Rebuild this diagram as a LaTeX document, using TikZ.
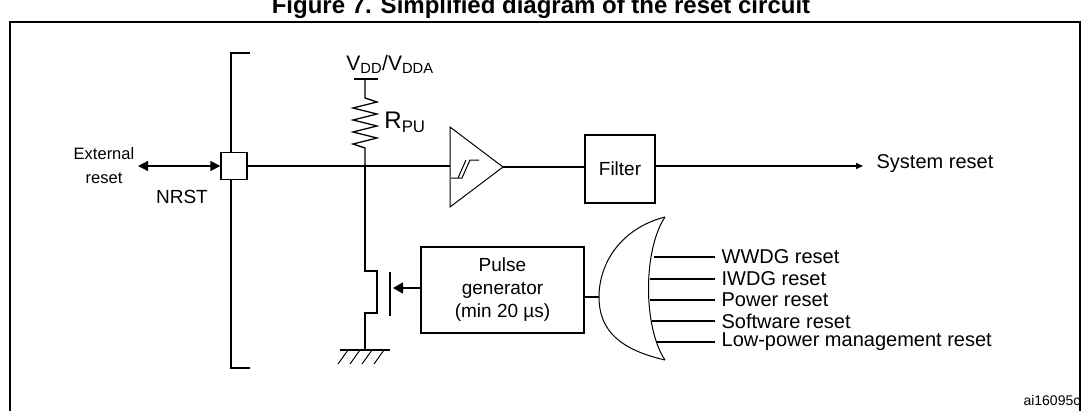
\documentclass[tikz,border=0pt]{standalone}
\usepackage{fontspec}
\setmainfont{Liberation Sans}
\usetikzlibrary{arrows.meta}
\begin{document}
\begin{tikzpicture}[x=1pt,y=-1pt,line width=1.3pt,
  lbl/.style={inner sep=0pt,font=\fontsize{20}{22}\selectfont},
  box/.style={draw,line width=1.3pt,inner sep=0pt,align=center,font=\fontsize{19}{23}\selectfont},
  tip/.style={-{Triangle[length=9pt,width=9pt]}}]
\useasboundingbox (0,0) rectangle (1082,410);
\draw[line width=1.6pt] (10,415) -- (10,22) -- (1080,22) -- (1080,415);
\node[font=\bfseries\fontsize{24}{26}\selectfont,anchor=center] (title) at (541,7) {Figure 7. Simplified diagram of the reset circuit};
% bracket
\draw (250,53) -- (231,53) -- (231,368) -- (250,368);
\node[draw,fill=white,minimum width=26pt,minimum height=27pt,inner sep=0pt,line width=1.3pt] (pad) at (234,166) {};
\coordinate (ext) at (138,166);
\draw[{Triangle[length=10pt,width=10pt]}-{Triangle[length=10pt,width=10pt]}] (ext) -- (pad.west);
\node[font=\fontsize{16.5}{24}\selectfont,align=center,inner sep=0pt] (extl) at (104,166) {External\\reset};
\node[font=\fontsize{19}{21}\selectfont,inner sep=0pt] (nrst) at (182,197) {NRST};
% junction
\coordinate (j) at (365,166);
\fill (j) circle (1.8pt);
% comparator
\coordinate (ca) at (450,127); \coordinate (cb) at (450,207); \coordinate (ct) at (503,167);
\draw[line width=1pt] (ca) -- (ct) -- (cb) -- cycle;
\draw[line width=1pt] (451,178) -- (462,178) -- (470,160) -- (479,160);
\draw[line width=1pt] (458,178) -- (466,160);
\draw (pad.east) -- (j) -- (450,166);
% VDD & resistor
\node[lbl,font=\fontsize{21}{23}\selectfont] (vdd) at (390,64) {V\textsubscript{DD}/V\textsubscript{DDA}};
\draw (354,79) -- (378,79);
\draw (365,79) -- (365,98) -- (377,102) -- (353,108) -- (377,114) -- (353,120) -- (377,126) -- (353,132) -- (377,138) -- (353,144) -- (365,148) -- (j);
\node[lbl,font=\fontsize{24}{26}\selectfont] (rpu) at (405,122) {R\textsubscript{PU}};
% filter
\node[box,minimum width=70pt,minimum height=68pt] (filter) at (620,169) {Filter};
\draw (ct) -- (filter.west|-ct);
\coordinate (sys) at (863,166);
\draw[-{Triangle[length=7pt,width=6pt]}] (filter.east|-sys) -- (sys);
\node[lbl,anchor=west] (sysl) at (876,164) {System reset};
% transistor
\draw (j) -- (365,271) -- (377,271) -- (377,313) -- (365,313) -- (365,350);
\draw (390,272) -- (390,316);
\draw (340,350) -- (390,350);
\foreach \x in {348,360,372,384} \draw[line width=1pt] (\x,350) -- (\x-10,364);
% pulse generator
\node[box,minimum width=163pt,minimum height=86pt] (pulse) at (502.5,290) {Pulse\\generator\\(min 20 µs)};
\draw[-{Triangle[length=10pt,width=11pt]}] (pulse.west|-0,288) -- (393,288);
% OR gate
\draw[line width=1pt] (665,217) .. controls (622,228) and (599,262) .. (599,297) .. controls (599,332) and (622,350) .. (665,360);
\draw[line width=1pt] (665,217) .. controls (643,250) and (643,327) .. (665,360);
\draw (pulse.east|-0,297) -- (599,297);
\foreach \y/\xs/\t in {257/654/WWDG reset,279/650/IWDG reset,300/650/Power reset,321/652/Software reset,342/656/Low-power management reset}{
  \draw (\xs,\y) -- (715,\y);
  \node[lbl,anchor=west] at (721,\y) {\t};
}
\node[font=\fontsize{14}{16}\selectfont,anchor=east,inner sep=0pt] (ai) at (1081,400) {ai16095c};
\end{tikzpicture}
\end{document}
